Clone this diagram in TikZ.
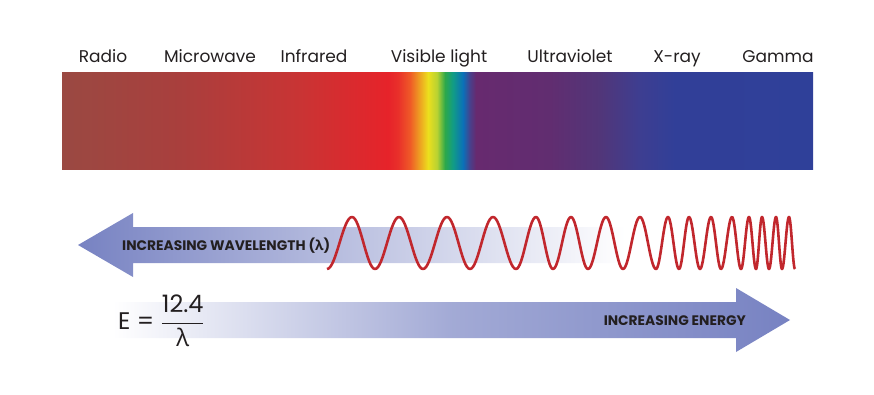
\documentclass[tikz,border=0pt]{standalone}
\usepackage{fontspec}
\setmainfont{Poppins}
\newfontfamily\lamfont{Open Sans}
\usetikzlibrary{positioning,calc}
\definecolor{ink}{HTML}{231F20}
\definecolor{azulflecha}{HTML}{7782C2}
\definecolor{rojoonda}{HTML}{C1272D}
\definecolor{sp00}{HTML}{9A4942}
\definecolor{sp01}{HTML}{A93F3D}
\definecolor{sp02}{HTML}{C93434}
\definecolor{sp03}{HTML}{E6232A}
\definecolor{sp04}{HTML}{E9302A}
\definecolor{sp05}{HTML}{EF5A27}
\definecolor{sp06}{HTML}{ECDF1D}
\definecolor{sp07}{HTML}{B8D232}
\definecolor{sp08}{HTML}{2DA84A}
\definecolor{sp09}{HTML}{119C86}
\definecolor{sp10}{HTML}{0B70B8}
\definecolor{sp11}{HTML}{4A3F8A}
\definecolor{sp12}{HTML}{672A6F}
\definecolor{sp13}{HTML}{612D70}
\definecolor{sp14}{HTML}{513679}
\definecolor{sp15}{HTML}{3D3E91}
\definecolor{sp16}{HTML}{313F98}
\definecolor{sp17}{HTML}{2F4099}
\pgfdeclarehorizontalshading{espectro}{100bp}{color(0bp)=(sp00); color(25bp)=(sp00);
  color(32.86bp)=(sp01); color(40.85bp)=(sp02); color(46.71bp)=(sp03); color(47.37bp)=(sp04);
  color(48.17bp)=(sp05); color(49.37bp)=(sp06); color(49.97bp)=(sp07); color(50.5bp)=(sp08);
  color(51.03bp)=(sp09); color(51.7bp)=(sp10); color(52.17bp)=(sp11); color(52.56bp)=(sp12);
  color(57.49bp)=(sp13); color(60.82bp)=(sp14); color(63.48bp)=(sp15); color(65.81bp)=(sp16);
  color(75bp)=(sp17); color(100bp)=(sp17)}
\tikzset{
  banda/.style={shading=espectro,draw=none,inner sep=0pt,minimum width=751pt,minimum height=97pt},
  rotulo/.style={font=\fontsize{17}{20}\selectfont,text=ink,inner sep=0pt,anchor=base},
  rotulob/.style={font=\fontsize{13.8}{16}\selectfont\bfseries,text=ink,inner sep=0pt},
  ondaroja/.style={draw=rojoonda,line width=2.6pt,line join=round},
}

\begin{document}
\begin{tikzpicture}[x=1pt,y=-1pt]
  \useasboundingbox (0,0) rectangle (874,395);
  \node[banda] (bar) at (437.5,121.5) {};
  \node[rotulo] (radio) at (103,63) {Radio};
  \node[rotulo] (micro) at (210,63) {Microwave};
  \node[rotulo] (infra) at (314,63) {Infrared};
  \node[rotulo] (visible) at (439,63) {Visible light};
  \node[rotulo] (uv) at (570,63) {Ultraviolet};
  \node[rotulo] (xray) at (677,63) {X-ray};
  \node[rotulo] (gamma) at (778,63) {Gamma};
  \shade[left color=azulflecha,right color=white] (78,245) -- (133,213) -- (133,227) -- (625,227)
    -- (625,263) -- (133,263) -- (133,277) -- cycle;
  \node[rotulob,anchor=west] (longonda) at (122,246) {INCREASING WAVELENGTH ({\lamfont\bfseries λ})};
  \draw[ondaroja] (327,269) \foreach \x/\y [remember=\x as \xprev (initially 327)] in
    {352/217,375/269,399/217,423/269,447/217,470/269,493/217,516/269,536/217,553/269,
     571/217,588/269,606/217,623/269,640/217,656/269,668/217,679/269,689/217,700/269,
     711/217,721/269,732/217,741/269,749/217,756/269,762/217,769/269,776/217,782/269,
     789/217,795/269} { cos ({(\xprev+\x)/2},243) sin (\x,\y) };
  \shade[left color=white,right color=azulflecha,middle color=azulflecha!68] (113,302) -- (736,302)
    -- (736,288) -- (790,320) -- (736,352) -- (736,338) -- (113,338) -- cycle;
  \node[rotulob,anchor=east] (energia) at (746,321) {INCREASING ENERGY};
  \node[font=\fontsize{24}{28}\selectfont,text=ink,inner sep=0pt,anchor=base west] (ec) at (118,329.5)
    {E = $\displaystyle\frac{\mbox{12.4}}{\mbox{\lamfont λ}}$};
\end{tikzpicture}
\end{document}
